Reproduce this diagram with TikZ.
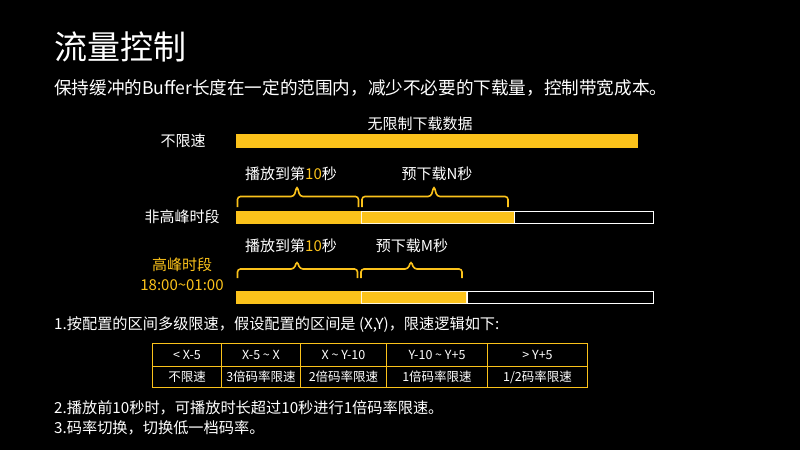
\documentclass[tikz,border=0pt]{standalone}
\usepackage{fontspec}
\setmainfont{Noto Sans CJK SC}
\definecolor{gold}{HTML}{FBC21B}
\tikzset{
  txt/.style={text=white, inner sep=0pt, font=\fontsize{15}{17}\selectfont},
  fullbar/.style={fill=gold, draw=none},
  partbar/.style={fill=gold, draw=white!85!gold, line width=1pt},
  emptybar/.style={fill=black, draw=white, line width=1pt},
  bracel/.style={draw=gold, line width=1.6pt, rounded corners=3pt},
  cell/.style={txt, font=\fontsize{12.5}{14}\selectfont, anchor=center},
  para/.style={txt, anchor=west, font=\fontsize{15.2}{17}\selectfont},
}
% #1 left x, #2 right x, #3 tip x, #4 line y, #5 end y, #6 tip y
\newcommand{\flatbrace}[6]{%
  \draw[bracel] (#1,#5) -- (#1,#4) -- (#3-3,#4) -- (#3,#6) -- (#3+3,#4) -- (#2,#4) -- (#2,#5);}
\begin{document}
\begin{tikzpicture}[x=1pt,y=-1pt]
\fill[black] (0,0) rectangle (800,450);
\useasboundingbox (0,0) rectangle (800,450);
% title
\node[txt, anchor=west, font=\fontsize{33}{36}\selectfont] (title) at (54,47) {流量控制};
\node[txt, anchor=west, font=\fontsize{17.6}{20}\selectfont] (sub) at (54,88) {保持缓冲的Buffer长度在一定的范围内，减少不必要的下载量，控制带宽成本。};
% row 1
\node[txt, anchor=center] (l1) at (183,141) {不限速};
\path[fullbar] (236,134) rectangle (638,148);
\node[txt] (t1) at (420,124) {无限制下载数据};
% row 2
\node[txt, anchor=center] (l2) at (182,217) {非高峰时段};
\path[fullbar] (236,211) rectangle (361,224);
\path[partbar] (361.5,211.5) rectangle (514,223.5);
\path[emptybar] (514.5,211.5) rectangle (653,223.5);
\flatbrace{237.5}{358.5}{297}{196.5}{207}{186}
\flatbrace{362}{508}{434}{196.5}{207}{186}
\node[txt] (t2a) at (291,174) {播放到第\textcolor{gold}{10}秒};
\node[txt] (t2b) at (437,174) {预下载N秒};
% row 3
\node[txt, text=gold, anchor=center] (l3a) at (182,265) {高峰时段};
\node[txt, text=gold, anchor=center] (l3b) at (182,285) {18:00\textasciitilde01:00};
\path[fullbar] (236,291) rectangle (361,304);
\path[partbar] (361.5,291.5) rectangle (466,303.5);
\path[emptybar] (467.5,291.5) rectangle (653,303.5);
\flatbrace{237.5}{357.5}{297}{269}{278}{261}
\flatbrace{361}{462}{411}{269}{278}{261}
\node[txt] (t3a) at (291,246) {播放到第\textcolor{gold}{10}秒};
\node[txt] (t3b) at (412,246) {预下载M秒};
% list
\node[para] (p1) at (54,325) {1.按配置的区间多级限速，假设配置的区间是 (X,Y)，限速逻辑如下:};
% table
\draw[gold, line width=0.9pt] (152.5,343.5) rectangle (587.5,387.5);
\draw[gold, line width=0.9pt] (152.5,366) -- (587.5,366);
\foreach \x in {221.5,300.5,386.5,487.5} \draw[gold, line width=0.9pt] (\x,343.5) -- (\x,387.5);
\node[cell] (h1) at (187,355) {< X-5};
\node[cell] (h2) at (261,355) {X-5 \textasciitilde{} X};
\node[cell] (h3) at (343.5,355) {X \textasciitilde{} Y-10};
\node[cell] (h4) at (437,355) {Y-10 \textasciitilde{} Y+5};
\node[cell] (h5) at (537.5,355) {> Y+5};
\node[cell] (c1) at (187,377) {不限速};
\node[cell] (c2) at (261,377) {3倍码率限速};
\node[cell] (c3) at (343.5,377) {2倍码率限速};
\node[cell] (c4) at (437,377) {1倍码率限速};
\node[cell] (c5) at (537.5,377) {1/2码率限速};
\node[para] (p2) at (54,408) {2.播放前10秒时，可播放时长超过10秒进行1倍码率限速。};
\node[para] (p3) at (54,428) {3.码率切换，切换低一档码率。};
\end{tikzpicture}
\end{document}
